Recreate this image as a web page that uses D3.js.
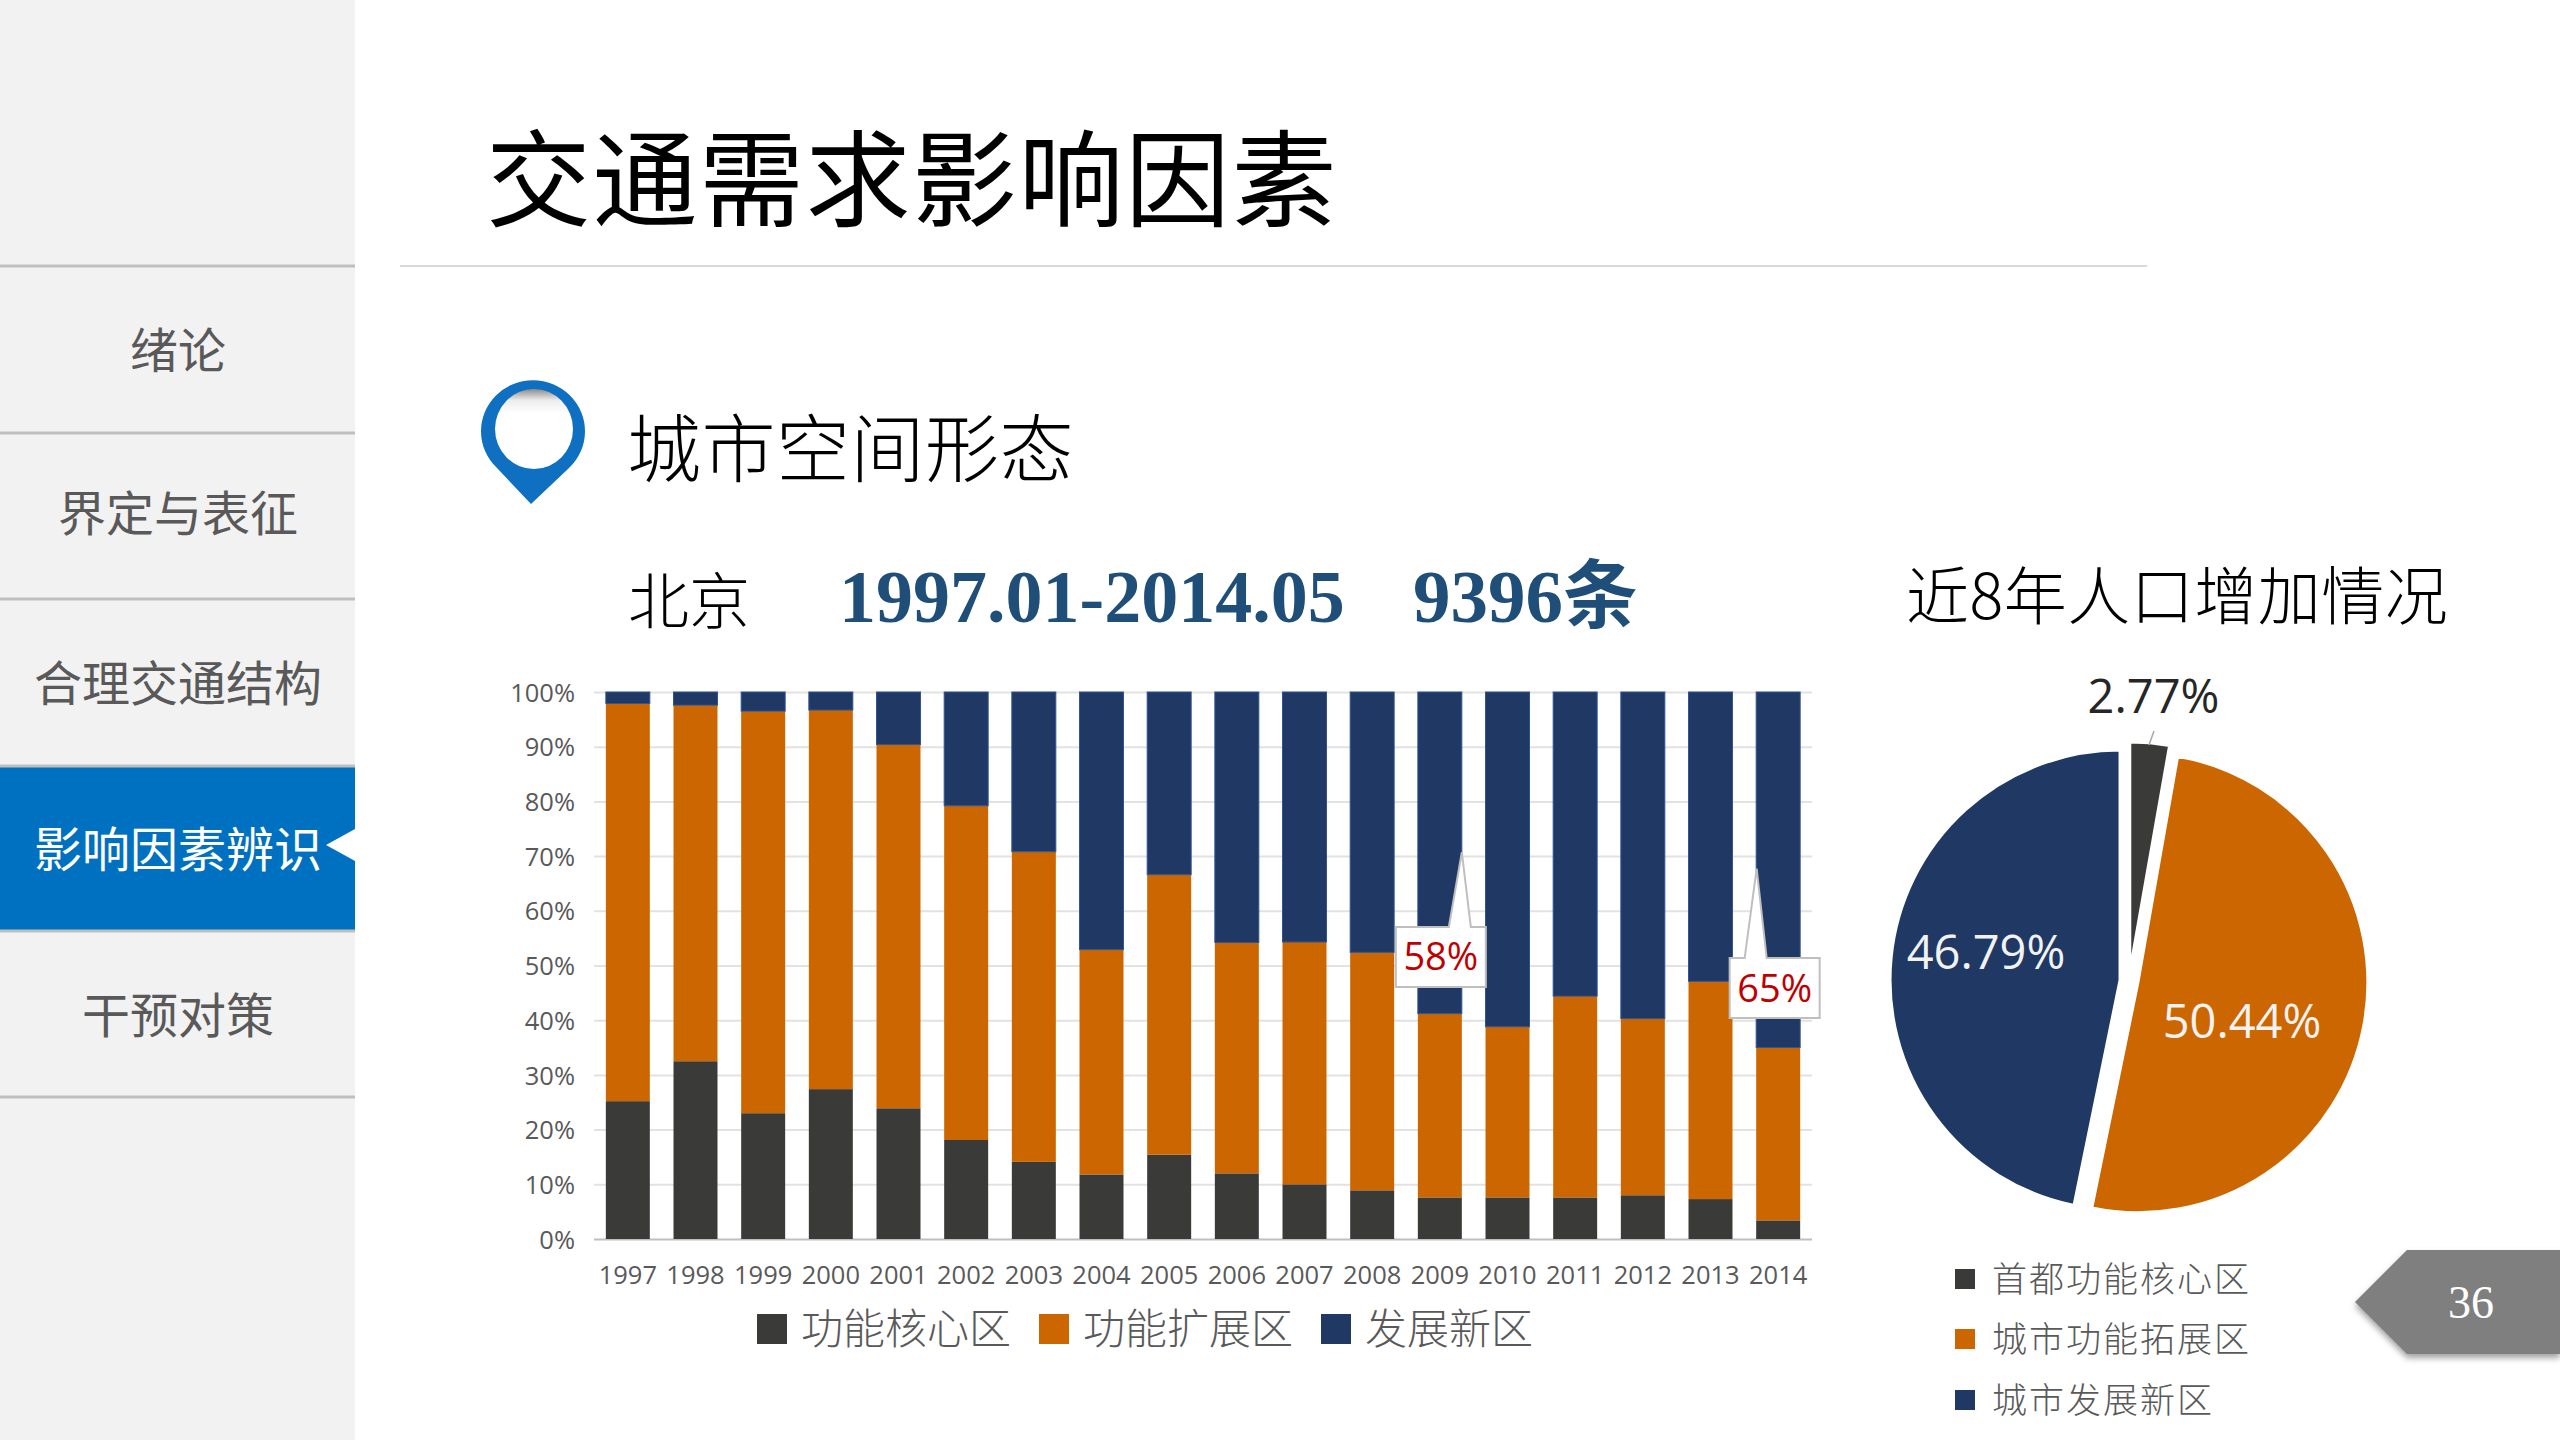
<!DOCTYPE html>
<html>
<head>
<meta charset="utf-8">
<script src="https://cdn.jsdelivr.net/npm/d3@7"></script>
<style>
  html, body { margin: 0; padding: 0; background: #fff; }
  svg { display: block; }
  text { font-family: "Noto Sans CJK SC", sans-serif; }
</style>
</head>
<body>
<div id="chart"></div>
<script>
const menuItems = ['绪论', '界定与表征', '合理交通结构', '影响因素辨识', '干预对策'];
const activeMenu = '影响因素辨识';

const years = ['1997', '1998', '1999', '2000', '2001', '2002', '2003', '2004', '2005',
  '2006', '2007', '2008', '2009', '2010', '2011', '2012', '2013', '2014'];
const coreShare = [25.2, 32.5, 23.0, 27.4, 23.9, 18.1, 14.1, 11.8, 15.4, 12.0, 10.0, 8.9, 7.6, 7.6, 7.6, 8.0, 7.3, 3.4];
const extendShare = [72.7, 65.1, 73.5, 69.3, 66.5, 61.1, 56.7, 41.1, 51.2, 42.2, 44.3, 43.5, 33.6, 31.2, 36.8, 32.3, 39.8, 31.6];
const newShare = [2.1, 2.4, 3.5, 3.3, 9.6, 20.8, 29.2, 47.1, 33.4, 45.8, 45.7, 47.6, 58.8, 61.2, 55.6, 59.7, 52.9, 65.0];
const barSeriesNames = ['功能核心区', '功能扩展区', '发展新区'];
const yTicks = [0, 10, 20, 30, 40, 50, 60, 70, 80, 90, 100];

const calloutYears = ['2009', '2014'];
const calloutLabels = ['58%', '65%'];

const pieNames = ['首都功能核心区', '城市功能拓展区', '城市发展新区'];
const pieValues = [2.77, 50.44, 46.79];

const colors = ['#3a3a38', '#cc6600', '#1f3864'];
const width = 2560, height = 1440;

const svg = d3.select('#chart').append('svg')
  .attr('width', width)
  .attr('height', height)
  .attr('viewBox', `0 0 ${width} ${height}`);

const defs = svg.append('defs');
const hole = defs.append('linearGradient').attr('id', 'hole')
  .attr('x1', 0).attr('y1', 0).attr('x2', 0).attr('y2', 1);
hole.append('stop').attr('offset', 0).attr('stop-color', '#8c8c8c');
hole.append('stop').attr('offset', 0.14).attr('stop-color', '#ececec');
hole.append('stop').attr('offset', 0.3).attr('stop-color', '#ffffff');
const blur = defs.append('filter').attr('id', 'blur');
blur.append('feGaussianBlur').attr('stdDeviation', 3);

// side menu
const menuY = [266, 433, 599, 766, 931, 1097];
svg.append('rect').attr('width', 355).attr('height', height).attr('fill', '#f2f2f2');
const activeIndex = menuItems.indexOf(activeMenu);
svg.append('rect')
  .attr('y', menuY[activeIndex]).attr('width', 355)
  .attr('height', menuY[activeIndex + 1] - menuY[activeIndex])
  .attr('fill', '#0070c0');
svg.append('g').selectAll('line').data(menuY).join('line')
  .attr('x1', 0).attr('x2', 355)
  .attr('y1', d => d).attr('y2', d => d)
  .attr('stroke', '#bfbfbf').attr('stroke-width', 3);
svg.append('path').attr('d', 'M326,845L355,829L355,861Z').attr('fill', '#fff');
svg.append('g').selectAll('text').data(menuItems).join('text')
  .attr('x', 178)
  .attr('y', (d, i) => [351, 514, 684, 850, 1016][i])
  .attr('dy', '0.36em')
  .attr('text-anchor', 'middle')
  .attr('font-size', 48)
  .attr('fill', d => d === activeMenu ? '#fff' : '#595959')
  .text(d => d);

// header
svg.append('text').attr('x', 486).attr('y', 180).attr('dy', '0.36em')
  .attr('font-size', 105).attr('letter-spacing', 1.5).attr('fill', '#000').text('交通需求影响因素');
svg.append('line').attr('x1', 400).attr('x2', 2147).attr('y1', 266).attr('y2', 266)
  .attr('stroke', '#d9d9d9').attr('stroke-width', 2);

// pin icon
svg.append('path')
  .attr('d', 'M531,504L497,468A52,51 0 1 1 569,468Z')
  .attr('fill', '#0f6fc0');
svg.append('ellipse').attr('cx', 534).attr('cy', 429).attr('rx', 39).attr('ry', 40)
  .attr('fill', 'url(#hole)');

svg.append('text').attr('x', 627).attr('y', 449).attr('dy', '0.36em')
  .attr('font-size', 74).attr('font-weight', 300).attr('letter-spacing', 0.5).attr('fill', '#000').text('城市空间形态');
svg.append('text').attr('x', 628).attr('y', 602).attr('dy', '0.36em')
  .attr('font-size', 61).attr('font-weight', 300).attr('fill', '#000').text('北京');
svg.append('text').attr('x', 839).attr('y', 622)
  .style('font-family', '"Liberation Serif", "Noto Sans CJK SC", serif')
  .attr('font-size', 74).attr('font-weight', 700).attr('fill', '#1f4e79')
  .text('1997.01-2014.05');
svg.append('text').attr('x', 1413).attr('y', 622)
  .style('font-family', '"Liberation Serif", "Noto Sans CJK SC", serif')
  .attr('font-size', 75).attr('font-weight', 700).attr('fill', '#1f4e79')
  .text('9396条');
svg.append('text').attr('x', 1906).attr('y', 596).attr('dy', '0.36em')
  .attr('font-size', 63).attr('font-weight', 300).attr('letter-spacing', 0.5).attr('fill', '#000').text('近8年人口增加情况');

// stacked bars
const margin = {top: 692, right: 748, bottom: 201, left: 594};

const x = d3.scaleBand()
  .domain(years)
  .range([margin.left, width - margin.right])
  .paddingInner(0.35)
  .paddingOuter(0.175);

const y = d3.scaleLinear()
  .domain([0, 100])
  .range([height - margin.bottom, margin.top]);

const yAxis = g => g
  .attr('transform', `translate(${margin.left},0)`)
  .call(d3.axisLeft(y).tickValues(yTicks).tickFormat(d => d + '%').tickSize(0).tickPadding(19))
  .call(g => g.select('.domain').remove())
  .call(g => g.selectAll('.tick line').clone()
    .attr('x2', width - margin.left - margin.right)
    .attr('stroke', d => d === 0 ? '#bfbfbf' : '#e2e2e2')
    .attr('stroke-width', 2))
  .call(g => g.selectAll('text')
    .style('font-family', '"Open Sans", sans-serif')
    .attr('font-size', 25.5).attr('fill', '#595959')
    .attr('y', 1));

svg.append('g').call(yAxis);

const xAxis = g => g
  .attr('transform', `translate(0,${height - margin.bottom})`)
  .call(d3.axisBottom(x).tickSize(0).tickPadding(27))
  .call(g => g.select('.domain').remove())
  .call(g => g.selectAll('text')
    .style('font-family', '"Open Sans", sans-serif')
    .attr('font-size', 25.5).attr('fill', '#595959'));

svg.append('g').call(xAxis);

const table = years.map((d, i) => ({year: d, core: coreShare[i], extend: extendShare[i], fresh: newShare[i]}));
const stack = d3.stack().keys(['core', 'extend', 'fresh'])(table);

svg.append('g')
  .selectAll('g')
  .data(stack)
  .join('g')
    .attr('fill', (d, i) => colors[i])
    .attr('stroke', (d, i) => i === 2 ? '#2f5597' : 'none')
    .attr('stroke-width', 1)
  .selectAll('rect')
  .data(d => d)
  .join('rect')
    .attr('x', d => x(d.data.year))
    .attr('width', x.bandwidth())
    .attr('y', d => y(Math.min(d[1], 100)))
    .attr('height', d => y(d[0]) - y(Math.min(d[1], 100)));

// callouts on the 2009 and 2014 bars
const callout = svg.append('g').selectAll('g').data(calloutYears).join('g')
  .attr('transform', (d, i) => `translate(${x(d) + x.bandwidth() / 2 + [1, -3.5][i]},0)`);
callout.append('path')
  .attr('d', (d, i) => {
    const top = [927, 958][i], bottom = top + 60;
    const tipX = [21, -18][i], tipY = y([70.7, 67.7][i]);
    const a = [8, -30][i], b = [30, -8][i];
    return `M-45,${top}L${a},${top}L${tipX},${tipY}L${b},${top}L45,${top}L45,${bottom}L-45,${bottom}Z`;
  })
  .attr('fill', '#fff').attr('stroke', '#bfbfbf').attr('stroke-width', 2);
callout.append('text')
  .attr('y', (d, i) => [956, 988][i])
  .attr('dy', '0.36em')
  .attr('text-anchor', 'middle')
  .style('font-family', '"Open Sans", sans-serif')
  .attr('font-size', 38).attr('fill', '#c00000')
  .text((d, i) => calloutLabels[i]);

// bar legend
const barLegend = svg.append('g').selectAll('g').data(barSeriesNames).join('g')
  .attr('transform', (d, i) => `translate(${[757, 1039, 1321][i]},1329)`);
barLegend.append('rect').attr('y', -15).attr('width', 30).attr('height', 30)
  .attr('fill', (d, i) => colors[i]);
barLegend.append('text').attr('x', 44).attr('dy', '0.36em')
  .attr('font-size', 42).attr('font-weight', 300).attr('fill', '#595959')
  .text(d => d);

// pie, each slice pulled out from the centre
const pieCenter = [2129, 981], pieRadius = 230, explosion = 9;
const arc = d3.arc().innerRadius(0).outerRadius(pieRadius);
const arcs = d3.pie().sort(null)(pieValues);
const pieG = svg.append('g').attr('transform', `translate(${pieCenter})`);
const offset = d => {
  const mid = (d.startAngle + d.endAngle) / 2;
  return [Math.sin(mid) * explosion, -Math.cos(mid) * explosion];
};
pieG.selectAll('path').data(arcs).join('path')
  .attr('transform', d => `translate(${offset(d)})`)
  .attr('d', arc)
  .attr('fill', (d, i) => colors[i])
  .attr('stroke', '#fff')
  .attr('stroke-width', 3);

svg.append('line').attr('x1', 2154).attr('y1', 731).attr('x2', 2149).attr('y2', 745)
  .attr('stroke', '#a6a6a6').attr('stroke-width', 1.5);

const pieLabelPos = [[2153.5, 713], [2242, 1038], [1986, 969]];
svg.append('g').selectAll('text').data(pieValues).join('text')
  .attr('x', (d, i) => pieLabelPos[i][0])
  .attr('y', (d, i) => pieLabelPos[i][1])
  .attr('text-anchor', 'middle')
  .style('font-family', '"Open Sans", sans-serif')
  .attr('font-size', 47)
  .attr('fill', (d, i) => i === 0 ? '#262626' : '#f2f2f2')
  .text(d => d3.format('.2f')(d) + '%');

// pie legend
const pieLegend = svg.append('g').selectAll('g').data(pieNames).join('g')
  .attr('transform', (d, i) => `translate(1955,${[1279, 1339, 1400][i]})`);
pieLegend.append('rect').attr('y', -10).attr('width', 20).attr('height', 20)
  .attr('fill', (d, i) => colors[i]);
pieLegend.append('text').attr('x', 37).attr('dy', '0.36em')
  .attr('font-size', 35).attr('font-weight', 300).attr('letter-spacing', 2)
  .attr('fill', '#595959')
  .text(d => d);

// page number tab
svg.append('path').attr('d', 'M2355,1306L2407,1358L2560,1358L2560,1254L2407,1254Z')
  .attr('fill', '#a0a0a0').attr('filter', 'url(#blur)');
svg.append('path').attr('d', 'M2355,1302L2407,1250L2560,1250L2560,1354L2407,1354Z')
  .attr('fill', '#7f7f7f');
svg.append('text').attr('x', 2471).attr('y', 1302).attr('dy', '0.34em')
  .attr('text-anchor', 'middle')
  .style('font-family', '"Liberation Serif", serif')
  .attr('font-size', 46).attr('fill', '#fff').text('36');
</script>
</body>
</html>
